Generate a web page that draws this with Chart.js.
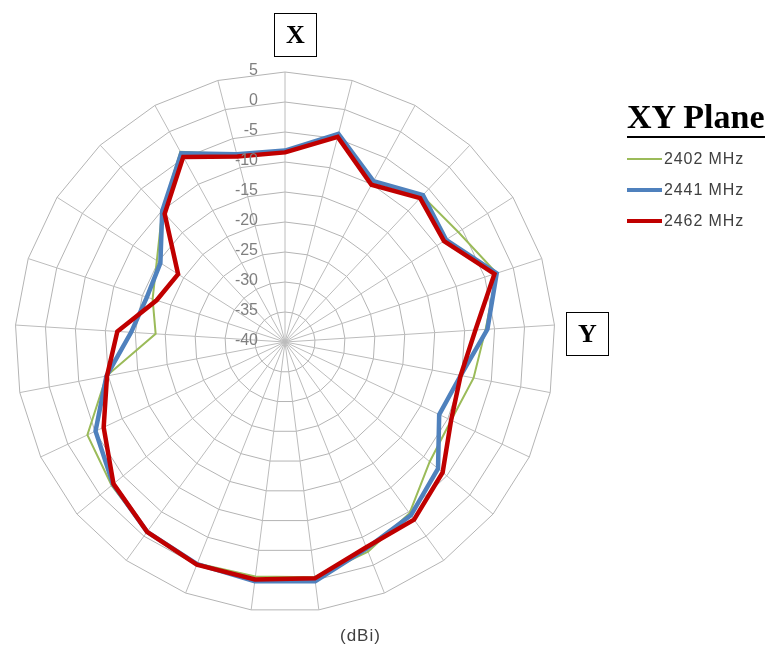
<!DOCTYPE html>
<html>
<head>
<meta charset="utf-8">
<script src="https://cdn.jsdelivr.net/npm/chart.js@4"></script>
<style>
  body { margin: 0; background: #fff; }
  #wrap { position: relative; width: 771px; height: 654px; }
  .axisBox {
    position: absolute; border: 1.5px solid #000; box-sizing: border-box;
    font: bold 26px "Liberation Serif", "DejaVu Serif", serif; color: #000;
    display: flex; align-items: center; justify-content: center;
  }
  #legend { position: absolute; left: 627px; top: 99px; font-family: "Liberation Sans", Arial, sans-serif; }
  #legend .title {
    font: bold 34px "Liberation Serif", serif; color: #000; white-space: nowrap;
    border-bottom: 2px solid #000; line-height: 36px; padding-bottom: 1px; margin-bottom: 5px;
  }
  #legend .item { height: 31px; display: flex; align-items: center; font-size: 16px; letter-spacing: 0.9px; color: #404040; }
  #legend .swatch { width: 35px; margin-right: 2px; }
  #unit { position: absolute; left: 340px; top: 626px; font: 17px "Liberation Sans", Arial, sans-serif; letter-spacing: 1px; color: #404040; }
</style>
</head>
<body>
<div id="wrap">
  <canvas id="polar" width="771" height="654"></canvas>
  <div class="axisBox" style="left:274px;top:13px;width:43px;height:44px;">X</div>
  <div class="axisBox" style="left:566px;top:312px;width:43px;height:44px;">Y</div>
  <div id="legend"></div>
  <div id="unit">(dBi)</div>
</div>
<script>
// angle in degrees, one point every 15 deg (0 and 360 both kept)
const angles = ['0','15','30','45','60','75','90','105','120','135','150','165','180',
                '195','210','225','240','255','270','285','300','315','330','345','360'];

const mhz2402 = [-8.3, -4.3, -9.3, -6.6, -5.8, -2.9, -6.5, -8.0, -9.4, -8.7, -4.7, -2.4, -0.5,
                 -0.6, -0.3, -0.9, -2.5, -3.6, -9.7, -18.4, -16.8, -14.7, -10.1, -3.8, -7.7];
const mhz2441 = [-8.1, -4.2, -9.4, -6.4, -8.2, -2.9, -6.2, -10.2, -11.6, -6.9, -4.3, -3.0, 0.2,
                 0.2, -0.2, -0.9, -2.8, -5.1, -9.7, -14.3, -15.8, -15.4, -10.1, -4.1, -7.7];
const mhz2462 = [-8.4, -4.7, -10.1, -7.1, -8.6, -3.3, -8.2, -10.2, -9.4, -5.9, -3.4, -3.2, -0.3,
                 -0.1, -0.1, -0.9, -2.9, -6.6, -9.8, -12.0, -17.5, -18.9, -10.7, -4.8, -8.1];

const tickValues = [5, 0, -5, -10, -15, -20, -25, -30, -35, -40];

const seriesNames = ['2402 MHz', '2441 MHz', '2462 MHz'];
const seriesColors = ['#9bbb59', '#4f81bd', '#c00000'];
const seriesWidths = [2, 4.5, 4.5];

// tick labels drawn left of the vertical spoke, on top of the lines
const tickPlugin = {
    id: 'tickText',
    afterDatasetsDraw(chart) {
        const sc = chart.scales.r;
        const ctx = chart.ctx;
        ctx.save();
        ctx.font = '16px "Liberation Sans", Arial, sans-serif';
        ctx.fillStyle = '#7f7f7f';
        ctx.textAlign = 'right';
        ctx.textBaseline = 'middle';
        tickValues.forEach(v => {
            const d = sc.getDistanceFromCenterForValue(v);
            ctx.fillText(String(v), sc.xCenter - 27, sc.yCenter - d - 1);
        });
        ctx.restore();
    }
};

const allData = [mhz2402, mhz2441, mhz2462];
const datasets = allData.map((d, i) => ({
    label: seriesNames[i],
    data: d,
    borderColor: seriesColors[i],
    backgroundColor: seriesColors[i],
    borderWidth: seriesWidths[i],
    pointRadius: 0,
    fill: false,
    tension: 0,
    order: 2 - i
}));

const ch = new Chart(document.getElementById('polar'), {
    type: 'radar',
    data: { labels: angles, datasets: datasets },
    options: {
        responsive: false,
        animation: false,
        layout: { padding: { left: 15, right: 216, top: 72, bottom: 42 } },
        plugins: { legend: { display: false }, tooltip: { enabled: false } },
        scales: {
            r: {
                min: -40,
                max: 5,
                ticks: { stepSize: 5, display: false },
                pointLabels: { display: false },
                grid: { color: '#b4b4b4', lineWidth: 1 },
                angleLines: { color: '#bcbcbc', lineWidth: 1 }
            }
        }
    },
    plugins: [tickPlugin]
});

// legend
const lg = document.getElementById('legend');
let html = '<div class="title">XY Plane</div>';
seriesNames.forEach((n, i) => {
    html += '<div class="item"><span class="swatch" style="border-top:' + (i === 0 ? 2.5 : 4) +
            'px solid ' + seriesColors[i] + '"></span>' + n + '</div>';
});
lg.innerHTML = html;
</script>
</body>
</html>
